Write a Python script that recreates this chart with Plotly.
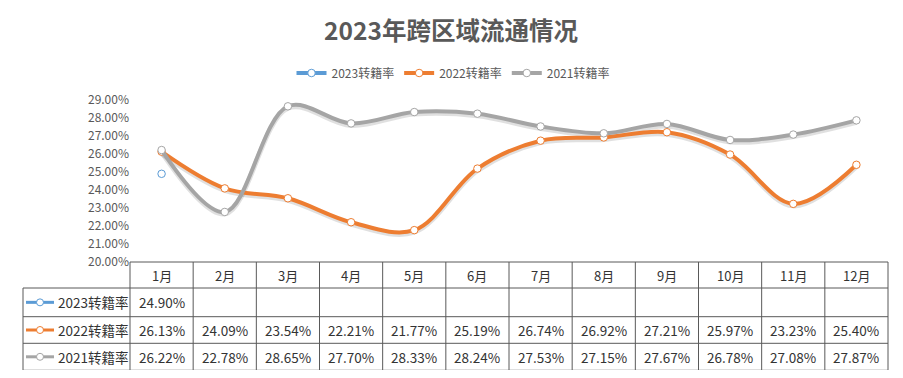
import plotly.graph_objects as go

months = ["1月", "2月", "3月", "4月", "5月", "6月", "7月", "8月", "9月", "10月", "11月", "12月"]
series_names = ["2023转籍率", "2022转籍率", "2021转籍率"]
rate_2023 = [24.90, None, None, None, None, None, None, None, None, None, None, None]
rate_2022 = [26.13, 24.09, 23.54, 22.21, 21.77, 25.19, 26.74, 26.92, 27.21, 25.97, 23.23, 25.40]
rate_2021 = [26.22, 22.78, 28.65, 27.70, 28.33, 28.24, 27.53, 27.15, 27.67, 26.78, 27.08, 27.87]
y_ticks = [20, 21, 22, 23, 24, 25, 26, 27, 28, 29]

colors = ["#5B9BD5", "#ED7D31", "#A5A5A5"]
all_series = [rate_2023, rate_2022, rate_2021]

OFF = 8  # page body margin
W, H = 903 - 2 * OFF, 378 - 2 * OFF
# screen-pixel layout of plot area
SL, SR, ST, SB = 130, 888, 100, 262
ML, MT = SL - OFF, ST - OFF
MR, MB = W - (SR - OFF), H - (SB - OFF)
PW = SR - SL
PH = SB - ST
FONT = "Noto Sans CJK SC"

def px_x(px):  # screen px -> paper
    return (px - SL) / PW

def px_y(py):
    return (SB - py) / PH

fig = go.Figure()

# soft shadow traces (same data on a slightly shifted axis, drawn beneath)
for vals in all_series[1:]:
    fig.add_trace(go.Scatter(
        x=months, y=vals, mode="lines", yaxis="y",
        line=dict(color="rgba(0,0,0,0.12)", width=5, shape="spline", smoothing=1),
        showlegend=False, hoverinfo="skip"))

for name, vals, col in zip(series_names, all_series, colors):
    fig.add_trace(go.Scatter(
        x=months, y=vals, name=name, mode="lines+markers", yaxis="y2",
        line=dict(color=col, width=4, shape="spline", smoothing=1),
        marker=dict(size=7.5, color="white", line=dict(color=col, width=1)),
        connectgaps=False))

# table
border = "#595959"
row_y = [SB, 288, 316.7, 343.3, 370.3]
left = 23
shapes = []
shapes.append(dict(type="line", xref="paper", yref="paper", x0=0, x1=1,
                   y0=px_y(row_y[0]), y1=px_y(row_y[0]), line=dict(color=border, width=1)))
for ry in row_y[1:]:
    shapes.append(dict(type="line", xref="paper", yref="paper", x0=px_x(left), x1=1,
                       y0=px_y(ry), y1=px_y(ry), line=dict(color=border, width=1)))
for i in range(len(months) + 1):
    xv = i / len(months)
    shapes.append(dict(type="line", xref="paper", yref="paper", x0=xv, x1=xv,
                       y0=px_y(row_y[0]), y1=px_y(row_y[-1]), line=dict(color=border, width=1)))
shapes.append(dict(type="line", xref="paper", yref="paper", x0=px_x(left), x1=px_x(left),
                   y0=px_y(row_y[1]), y1=px_y(row_y[-1]), line=dict(color=border, width=1)))

annotations = []
hy = (row_y[0] + row_y[1]) / 2
for m in months:
    annotations.append(dict(x=m, xref="x", y=px_y(hy), yref="paper", text=m, showarrow=False,
                            xanchor="center", yanchor="middle",
                            font=dict(size=13, color="#333333", family=FONT)))
for r, (name, vals, col) in enumerate(zip(series_names, all_series, colors)):
    cy = (row_y[r + 1] + row_y[r + 2]) / 2
    for m, v in zip(months, vals):
        if v is None:
            continue
        annotations.append(dict(x=m, xref="x", y=px_y(cy), yref="paper", text=f"{v:.2f}%",
                                showarrow=False, xanchor="center", yanchor="middle",
                                font=dict(size=13.5, color="#333333", family=FONT)))
    shapes.append(dict(type="line", xref="paper", yref="paper", x0=px_x(26), x1=px_x(54),
                       y0=px_y(cy), y1=px_y(cy), line=dict(color=col, width=3)))
    shapes.append(dict(type="circle", xref="paper", yref="paper", xsizemode="pixel", ysizemode="pixel",
                       xanchor=px_x(40), yanchor=px_y(cy), x0=-3.5, x1=3.5, y0=-3.5, y1=3.5,
                       fillcolor="white", line=dict(color=col, width=1)))
    annotations.append(dict(x=px_x(56), xref="paper", y=px_y(cy), yref="paper", text=name,
                            xanchor="left", yanchor="middle", showarrow=False,
                            font=dict(size=13.5, color="#333333", family=FONT)))

shift = 2.0 * (y_ticks[-1] - y_ticks[0]) / PH
fig.update_layout(
    width=W, height=H, autosize=False,
    margin=dict(l=ML, r=MR, t=MT, b=MB, autoexpand=False),
    paper_bgcolor="white", plot_bgcolor="white",
    title=dict(text="<b>2023年跨区域流通情况</b>", x=(451 - OFF) / W, xanchor="center", xref="container",
               y=1 - (31 - OFF) / H, yanchor="middle", yref="container",
               font=dict(size=24.5, color="#595959", family=FONT)),
    legend=dict(orientation="h", x=px_x(453), xanchor="center", y=px_y(73), yanchor="middle",
                font=dict(size=12, color="#595959", family=FONT),
                traceorder="normal", bgcolor="rgba(0,0,0,0)"),
    xaxis=dict(type="category", range=[-0.5, 11.5], showticklabels=False, showgrid=False,
               zeroline=False, showline=False, ticks=""),
    yaxis=dict(range=[y_ticks[0] + shift, y_ticks[-1] + shift], showticklabels=False,
               showgrid=False, zeroline=False, showline=False, ticks=""),
    yaxis2=dict(range=[y_ticks[0], y_ticks[-1]], overlaying="y", side="left", tickvals=y_ticks,
                ticktext=[f"{t:.2f}%" for t in y_ticks], showgrid=False, zeroline=False,
                showline=False, ticks="", ticklen=0, automargin=False,
                tickfont=dict(size=12, color="#595959", family=FONT)),
    shapes=shapes, annotations=annotations,
)

fig.write_html("out.html")
